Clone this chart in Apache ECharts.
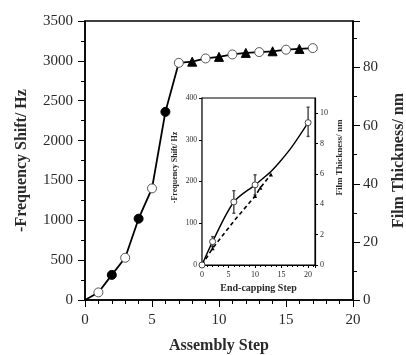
<!DOCTYPE html>
<html><head><meta charset="utf-8">
<script src="https://cdn.jsdelivr.net/npm/echarts@6/dist/echarts.min.js"></script>
<style>html,body{margin:0;padding:0;background:#fff}#c{width:406px;height:355px}</style>
</head><body><div id="c"></div>
<script>
// Main chart data
const assemblySteps = [0,1,2,3,4,5,6,7,8,9,10,11,12,13,14,15,16,17];
const freqShift = [0,95,315,530,1020,1400,2360,2975,2990,3030,3050,3080,3100,3110,3120,3140,3150,3160];
const markerKind = ['none','open','filled','open','filled','open','filled','open','tri','open','tri','open','tri','open','tri','open','tri','open'];
const leftTicks = [0,500,1000,1500,2000,2500,3000,3500];
const rightTicks = [0,20,40,60,80];
const xTicks = [0,5,10,15,20];
// Inset data
const capSteps = [0,2,6,10,13,15,17,20];
const capShift = [0,56,151,192,224,252,284,341];
const capMarked = [true,true,true,true,false,false,false,true];
const dashSteps = [0,2,6,10,11,13];
const dashShift = [0,40,105,165,185,217];
const dashMarked = [false,true,false,true,true,true];
const errSteps = [2,6,10,20];
const errLow = [44,124,168,308];
const errHigh = [68,178,216,378];

const FONT = '"Liberation Serif", "DejaVu Serif", serif';
const TXT = '#2a2a2a';
const plain = v => String(v);

const mainData = assemblySteps.map((s,i) => {
  const k = markerKind[i];
  const d = {value:[s, freqShift[i]]};
  if (k === 'none') d.symbol = 'none';
  else if (k === 'open') { d.symbol = 'circle'; d.symbolSize = 9; d.itemStyle = {color:'#fff', borderColor:'#555', borderWidth:1}; }
  else if (k === 'filled') { d.symbol = 'circle'; d.symbolSize = 9; d.itemStyle = {color:'#000', borderColor:'#000', borderWidth:1}; }
  else { d.symbol = 'triangle'; d.symbolSize = 9; d.itemStyle = {color:'#000', borderColor:'#000', borderWidth:1}; }
  return d;
});
const capData = capSteps.map((s,i) => capMarked[i]
  ? {value:[s, capShift[i]], symbol:'circle', symbolSize:6, itemStyle:{color:'#fff', borderColor:'#444', borderWidth:1}}
  : {value:[s, capShift[i]], symbol:'none'});
const dashData = dashSteps.map((s,i) => dashMarked[i]
  ? {value:[s, dashShift[i]], symbol:'triangle', symbolSize:4, itemStyle:{color:'#000'}}
  : {value:[s, dashShift[i]], symbol:'none'});
const errData = errSteps.map((s,i) => [s, errLow[i], errHigh[i]]);

const axisCommon = {
  axisLine:{show:true, lineStyle:{color:'#000', width:1.5}},
  splitLine:{show:false},
};

const chart = echarts.init(document.getElementById('c'), null, {renderer:'canvas'});
chart.setOption({
  animation:false,
  backgroundColor:'#fff',
  grid:[
    {left:85, right:53, top:21, bottom:55, containLabel:false, outerBoundsMode:'none', show:true, borderColor:'#000', borderWidth:1.5, backgroundColor:'transparent'},
    {left:202, right:91, top:98, bottom:90, containLabel:false, outerBoundsMode:'none', show:true, borderColor:'#000', borderWidth:1.2, backgroundColor:'#fff', z:5}
  ],
  xAxis:[
    Object.assign({}, axisCommon, {
      gridIndex:0, type:'value', min:xTicks[0], max:xTicks[xTicks.length-1], interval:5,
      name:'Assembly Step', nameLocation:'middle', nameGap:38,
      nameTextStyle:{fontFamily:FONT, fontWeight:'bold', fontSize:16, color:TXT},
      axisTick:{show:true, inside:false, length:7, lineStyle:{color:'#000'}},
      minorTick:{show:true, splitNumber:5, length:4, lineStyle:{color:'#000'}},
      axisLabel:{fontFamily:FONT, fontSize:15, color:TXT, margin:13, formatter:plain}
    }),
    Object.assign({}, axisCommon, {
      gridIndex:1, type:'value', min:0, max:21.3, interval:5,
      name:'End-capping Step', nameLocation:'middle', nameGap:18,
      nameTextStyle:{fontFamily:FONT, fontWeight:'bold', fontSize:10, color:TXT},
      axisLine:{show:true, lineStyle:{color:'#000', width:1.2}},
      axisTick:{show:true, length:3, lineStyle:{color:'#000'}},
      minorTick:{show:true, splitNumber:5, length:2, lineStyle:{color:'#000'}},
      axisLabel:{fontFamily:FONT, fontSize:8, color:TXT, margin:6, showMaxLabel:false, formatter:plain}
    })
  ],
  yAxis:[
    Object.assign({}, axisCommon, {
      gridIndex:0, type:'value', position:'left', min:leftTicks[0], max:leftTicks[leftTicks.length-1], interval:500,
      name:'-Frequency Shift/ Hz', nameLocation:'middle', nameGap:55, nameRotate:90,
      nameTextStyle:{fontFamily:FONT, fontWeight:'bold', fontSize:16, color:TXT},
      axisTick:{show:true, length:7, lineStyle:{color:'#000'}},
      minorTick:{show:true, splitNumber:2, length:4, lineStyle:{color:'#000'}},
      axisLabel:{fontFamily:FONT, fontSize:15, color:TXT, margin:12, formatter:plain}
    }),
    Object.assign({}, axisCommon, {
      gridIndex:0, type:'value', position:'right', min:rightTicks[0], max:96, interval:20,
      name:'Film Thickness/ nm', nameLocation:'middle', nameGap:38, nameRotate:90,
      nameTextStyle:{fontFamily:FONT, fontWeight:'bold', fontSize:16, color:TXT},
      axisTick:{show:true, length:7, lineStyle:{color:'#000'}},
      minorTick:{show:true, splitNumber:2, length:4, lineStyle:{color:'#000'}},
      axisLabel:{fontFamily:FONT, fontSize:15, color:TXT, margin:10, showMaxLabel:false, formatter:plain}
    }),
    Object.assign({}, axisCommon, {
      gridIndex:1, type:'value', position:'left', min:0, max:400, interval:100,
      name:'-Frequency Shift/ Hz', nameLocation:'middle', nameGap:23, nameRotate:90,
      nameTextStyle:{fontFamily:FONT, fontWeight:'bold', fontSize:8, color:TXT, padding:[0,0,0,28]},
      axisLine:{show:true, lineStyle:{color:'#000', width:1.2}},
      axisTick:{show:true, length:3, lineStyle:{color:'#000'}},
      axisLabel:{fontFamily:FONT, fontSize:7.5, color:TXT, margin:5, formatter:plain}
    }),
    Object.assign({}, axisCommon, {
      gridIndex:1, type:'value', position:'right', min:0, max:11, interval:2,
      name:'Film Thickness/ nm', nameLocation:'middle', nameGap:20, nameRotate:90,
      nameTextStyle:{fontFamily:FONT, fontWeight:'bold', fontSize:9, color:TXT, padding:[0,0,0,48]},
      axisLine:{show:true, lineStyle:{color:'#000', width:1.2}},
      axisTick:{show:true, length:3, lineStyle:{color:'#000'}},
      axisLabel:{fontFamily:FONT, fontSize:8, color:TXT, margin:5, showMaxLabel:false, formatter:plain}
    })
  ],
  series:[
    {type:'line', xAxisIndex:0, yAxisIndex:0, data:mainData, lineStyle:{color:'#000', width:1.8}, z:3},
    {type:'custom', xAxisIndex:1, yAxisIndex:2, data:errData, z:8,
      renderItem:function(params, api){
        const x = api.value(0);
        const lo = api.coord([x, api.value(1)]);
        const hi = api.coord([x, api.value(2)]);
        const st = {stroke:'#444', lineWidth:1.4};
        return {type:'group', children:[
          {type:'line', shape:{x1:lo[0], y1:lo[1], x2:hi[0], y2:hi[1]}, style:st},
          {type:'line', shape:{x1:lo[0]-1.5, y1:lo[1], x2:lo[0]+1.5, y2:lo[1]}, style:st},
          {type:'line', shape:{x1:hi[0]-1.5, y1:hi[1], x2:hi[0]+1.5, y2:hi[1]}, style:st}
        ]};
      }},
    {type:'line', xAxisIndex:1, yAxisIndex:2, data:dashData, lineStyle:{color:'#000', width:1.6, type:[4,3]}, z:9},
    {type:'line', xAxisIndex:1, yAxisIndex:2, data:capData, smooth:0.3, lineStyle:{color:'#000', width:1.4}, z:10}
  ]
});
</script>
</body></html>
